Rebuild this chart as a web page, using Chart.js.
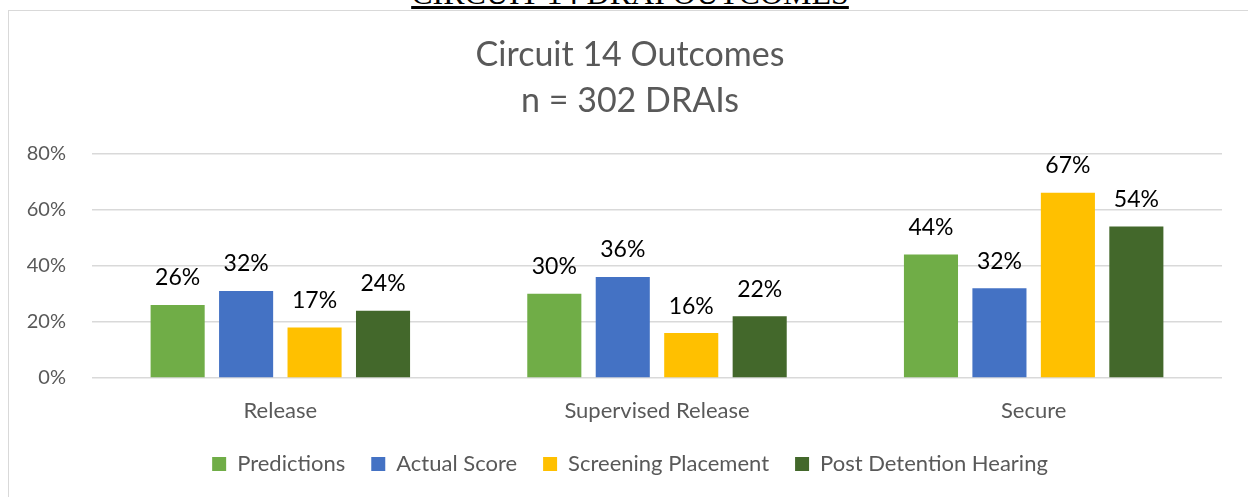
<!DOCTYPE html>
<html>
<head>
<meta charset="utf-8">
<script src="https://cdn.jsdelivr.net/npm/chart.js@4/dist/chart.umd.min.js"></script>
<style>
    html, body { margin: 0; padding: 0; background: #fff; overflow: hidden; }
    #wrap { position: relative; width: 1248px; height: 497px; overflow: hidden; }
    #heading {
        position: absolute; left: 6px; width: 1248px; top: -23px; line-height: 32px;
        text-align: center; font-family: "Liberation Serif", "DejaVu Serif", serif;
        font-size: 32px; text-decoration: underline; color: #000;
    }
    #frame {
        position: absolute; left: 8px; top: 10px; width: 1260px; height: 500px;
        border-left: 1.5px solid #d9d9d9; border-top: 1.5px solid #d9d9d9; background: #fff;
    }
    canvas { position: absolute; left: 0; top: 0; }
</style>
</head>
<body>
<div id="wrap">
    <div id="heading">CIRCUIT 14 DRAI OUTCOMES</div>
    <div id="frame"></div>
    <canvas id="chart" width="1260" height="497"></canvas>
</div>
<script>
// Categorías y series
const categories = ['Release', 'Supervised Release', 'Secure'];
const predictions = [26, 30, 44];
const actualScore = [31, 36, 32];
const screening = [18, 16, 66];
const postDetention = [24, 22, 54];

// Etiquetas tal como aparecen en el gráfico
const predictionsLabels = ['26%', '30%', '44%'];
const actualScoreLabels = ['32%', '36%', '32%'];
const screeningLabels = ['17%', '16%', '67%'];
const postDetentionLabels = ['24%', '22%', '54%'];

const yTicks = [0, 20, 40, 60, 80];

const FONT = 'Lato, "Open Sans", sans-serif';

// Plugin simple para las etiquetas encima de las barras
const barLabels = {
    id: 'barLabels',
    afterDatasetsDraw(chart) {
        const ctx = chart.ctx;
        ctx.save();
        ctx.font = '23px ' + FONT;
        ctx.fillStyle = '#000';
        ctx.textAlign = 'center';
        ctx.textBaseline = 'middle';
        chart.data.datasets.forEach((ds, i) => {
            chart.getDatasetMeta(i).data.forEach((bar, j) => {
                ctx.fillText(ds.valueLabels[j], bar.x, bar.y - 27);
            });
        });
        ctx.restore();
    }
};

new Chart(document.getElementById('chart'), {
    type: 'bar',
    data: {
        labels: categories,
        datasets: [
            { label: 'Predictions', data: predictions, valueLabels: predictionsLabels, backgroundColor: '#70AD47' },
            { label: 'Actual Score', data: actualScore, valueLabels: actualScoreLabels, backgroundColor: '#4472C4' },
            { label: 'Screening Placement', data: screening, valueLabels: screeningLabels, backgroundColor: '#FFC000' },
            { label: 'Post Detention Hearing', data: postDetention, valueLabels: postDetentionLabels, backgroundColor: '#43682B' }
        ]
    },
    options: {
        responsive: false,
        animation: false,
        categoryPercentage: 0.727,
        barPercentage: 0.79,
        layout: { padding: { left: 0, right: 0, top: 0, bottom: 12 } },
        plugins: {
            title: {
                display: true,
                text: ['Circuit 14 Outcomes', 'n = 302 DRAIs'],
                color: '#595959',
                font: { family: FONT, size: 34, weight: 'normal', lineHeight: 1.36 },
                padding: { top: 32, bottom: 29 }
            },
            legend: {
                position: 'bottom',
                labels: {
                    color: '#595959',
                    font: { family: FONT, size: 22 },
                    boxWidth: 14,
                    boxHeight: 14,
                    padding: 26
                }
            },
            tooltip: { enabled: false }
        },
        scales: {
            x: {
                afterFit: s => { s.height = 49; },
                grid: { display: false },
                border: { display: false },
                ticks: { color: '#595959', font: { family: FONT, size: 22 }, padding: 12 }
            },
            y: {
                min: 0,
                max: 80,
                afterBuildTicks: s => { s.ticks = yTicks.map(v => ({ value: v })); },
                afterFit: s => { s.width = 92; },
                grid: { color: '#d9d9d9', lineWidth: 1.5, drawTicks: false },
                border: { display: false },
                ticks: {
                    color: '#595959',
                    font: { family: FONT, size: 20 },
                    padding: 26,
                    callback: v => v + '%'
                }
            },
            // eje vacío a la derecha, solo para el margen del área de trazado
            yRight: {
                position: 'right',
                afterFit: s => { s.width = 38; },
                grid: { display: false },
                border: { display: false },
                ticks: { display: false }
            }
        }
    },
    plugins: [barLabels]
});
</script>
</body>
</html>
